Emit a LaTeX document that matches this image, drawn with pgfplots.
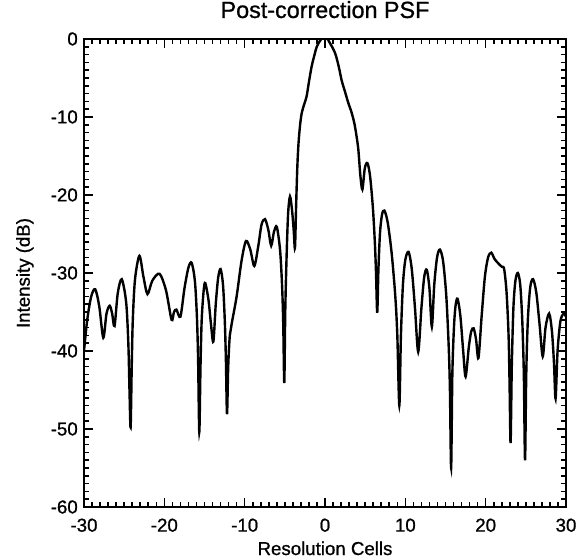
\documentclass[border=0pt]{standalone}
\usepackage{fontspec}
\setmainfont{Liberation Sans}[UprightFeatures={FakeBold=0.9}]
\usepackage{pgfplots}
\pgfplotsset{compat=1.18}

% point spread function after correction
\pgfplotstableread{
x y
-30.0 -40.0
-29.6 -36.0
-29.1 -33.0
-28.6 -32.1
-28.1 -34.3
-27.6 -38.3
-27.2 -35.2
-26.8 -34.2
-26.5 -35.2
-26.2 -36.8
-25.8 -32.6
-25.3 -30.8
-24.75 -33.8
-24.48 -39.1
-24.34 -45.0
-24.2 -49.8
-24.06 -42.0
-23.93 -36.1
-23.65 -30.8
-23.1 -27.8
-22.6 -30.5
-22.1 -32.7
-21.5 -31.0
-20.6 -30.1
-19.8 -32.2
-19.1 -36.0
-18.8 -35.0
-18.5 -34.7
-18.0 -35.6
-17.5 -32.0
-17.0 -29.3
-16.6 -28.7
-16.2 -31.0
-15.95 -35.5
-15.8 -41.0
-15.65 -50.4
-15.5 -42.0
-15.35 -36.0
-15.1 -32.2
-14.9 -31.3
-14.5 -33.5
-14.2 -36.5
-13.9 -38.8
-13.6 -34.0
-13.3 -30.6
-13.0 -29.5
-12.7 -31.5
-12.48 -36.0
-12.34 -41.0
-12.2 -48.1
-12.05 -42.0
-11.85 -38.0
-11.6 -36.4
-11.0 -33.0
-10.4 -28.5
-9.84 -25.9
-9.3 -27.0
-8.8 -29.1
-8.3 -26.5
-7.9 -23.8
-7.47 -23.1
-7.05 -24.5
-6.7 -26.5
-6.35 -24.7
-6.0 -24.1
-5.6 -27.0
-5.35 -31.5
-5.2 -36.5
-5.07 -44.1
-4.95 -35.0
-4.8 -28.5
-4.6 -22.5
-4.36 -20.2
-4.1 -22.0
-3.9 -24.5
-3.74 -26.8
-3.6 -21.5
-3.45 -16.5
-3.3 -13.4
-3.1 -11.0
-2.9 -9.5
-2.6 -8.4
-2.3 -7.4
-2.0 -5.5
-1.66 -3.5
-1.3 -2.0
-1.03 -1.0
-0.6 -0.2
0.0 0.4
0.6 -0.5
1.25 -1.8
1.7 -3.5
2.07 -5.3
2.5 -6.8
2.9 -8.2
3.3 -9.4
3.65 -10.8
3.9 -12.3
4.15 -14.2
4.4 -17.5
4.65 -19.3
4.95 -16.6
5.27 -15.9
5.6 -17.5
5.95 -21.5
6.2 -26.0
6.35 -30.0
6.5 -35.1
6.65 -29.5
6.85 -24.8
7.1 -22.5
7.39 -22.0
7.8 -23.5
8.3 -27.5
8.75 -33.0
9.0 -38.0
9.25 -47.0
9.45 -38.0
9.7 -31.5
10.0 -28.3
10.4 -27.3
10.8 -29.5
11.2 -34.5
11.6 -40.1
12.0 -34.5
12.35 -30.5
12.67 -29.6
13.0 -32.0
13.3 -36.9
13.6 -31.5
13.95 -28.0
14.3 -27.0
14.7 -28.5
15.1 -33.0
15.4 -39.5
15.55 -45.0
15.7 -55.0
15.85 -43.0
16.05 -37.0
16.25 -34.2
16.5 -33.3
16.85 -35.5
17.2 -40.0
17.5 -43.3
17.9 -39.5
18.2 -37.5
18.5 -37.1
18.8 -38.5
19.1 -40.9
19.5 -35.5
19.9 -30.5
20.3 -28.0
20.7 -27.4
21.1 -28.2
21.6 -28.8
22.0 -29.2
22.3 -29.5
22.6 -32.5
22.85 -38.0
22.97 -44.0
23.1 -51.8
23.25 -42.0
23.45 -34.5
23.7 -31.0
24.0 -30.0
24.3 -31.5
24.55 -36.0
24.75 -43.0
24.9 -54.0
25.05 -43.0
25.25 -36.0
25.55 -31.8
25.9 -30.8
26.3 -32.5
26.7 -36.5
27.1 -40.7
27.45 -37.0
27.9 -35.2
28.25 -37.5
28.5 -41.5
28.7 -46.1
28.95 -40.0
29.3 -36.2
29.7 -35.2
30.0 -35.6
}\psf

\begin{document}
\begin{tikzpicture}
\begin{axis}[
  scale only axis,
  width=361.5pt, height=351pt,
  xmin=-30, xmax=30, ymin=-60, ymax=0,
  xtick={-30,-20,...,30}, ytick={-60,-50,...,0},
  minor tick num=9,
  xtick pos=both, ytick pos=both,
  xticklabel pos=lower, yticklabel pos=left,
  tick align=inside,
  major tick length=6.75pt, minor tick length=3.4pt,
  axis line style={line width=1.6pt},
  every tick/.style={line width=1.2pt, black},
  /pgf/number format/assume math mode=true,
  tick label style={font=\fontsize{14}{16}\selectfont},
  xticklabel style={anchor=base, yshift=-18.5pt},
  yticklabel style={anchor=east, inner sep=0pt, xshift=-4.5pt},
  title={Post-correction PSF},
  title style={at={(axis description cs:0.5,1.0278)}, anchor=base, font=\fontsize{17.5}{20}\selectfont},
  xlabel={Resolution Cells},
  xlabel style={at={(axis description cs:0.5,-0.1026)}, anchor=base, font=\fontsize{14}{16}\selectfont},
  ylabel={Intensity (dB)},
  ylabel style={at={(axis description cs:-0.1126,0.5)}, anchor=base, rotate=0, font=\fontsize{14}{16}\selectfont},
]
\addplot[black, line width=1.8pt, smooth, tension=0.5] table[x=x, y=y] {\psf};
\coordinate (bbl) at (axis description cs:-0.1743,-0.1132);
\coordinate (bbr) at (axis description cs:1.0228,1.0833);
\end{axis}
\pgfresetboundingbox
\path (bbl) rectangle (bbr);
\end{tikzpicture}
\end{document}
